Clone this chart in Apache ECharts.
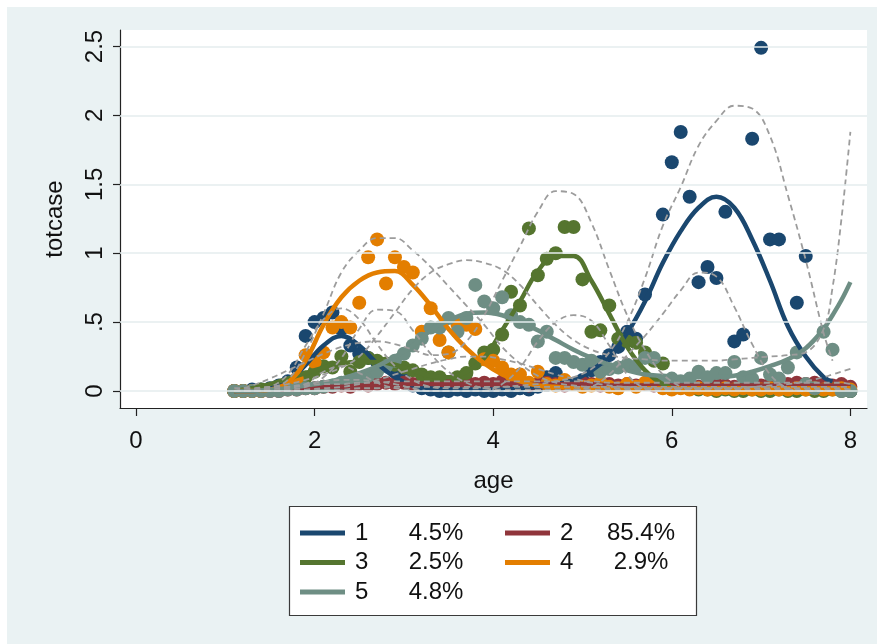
<!DOCTYPE html>
<html>
<head>
<meta charset="utf-8">
<script src="https://cdn.jsdelivr.net/npm/echarts@6/dist/echarts.min.js"></script>
<style>
  html, body { margin: 0; padding: 0; background: #fff; }
  #chart {
    width: 877px; height: 644px;
    background: linear-gradient(#eaf2f3, #eaf2f3) no-repeat 7px 7px / 870px 637px, #fff;
  }
</style>
</head>
<body>
<div id="chart"></div>
<script>
// Group labels and their estimated shares
const GROUP_NAMES = ['1', '2', '3', '4', '5'];
const GROUP_SHARES = ['4.5%', '85.4%', '2.5%', '2.9%', '4.8%'];

// Axis ticks
const X_TICKS = [0, 2, 4, 6, 8];
const Y_TICKS = [0, 0.5, 1, 1.5, 2, 2.5];

// Ages of the observed group means
const OBS_AGES = [
  1.1, 1.2, 1.3, 1.4, 1.5, 1.6, 1.7, 1.8, 1.9, 2.0,
  2.1, 2.2, 2.3, 2.4, 2.5, 2.6, 2.7, 2.8, 2.9, 3.0,
  3.1, 3.2, 3.3, 3.4, 3.5, 3.6, 3.7, 3.8, 3.9, 4.0,
  4.1, 4.2, 4.3, 4.4, 4.5, 4.6, 4.7, 4.8, 4.9, 5.0,
  5.1, 5.2, 5.3, 5.4, 5.5, 5.6, 5.7, 5.8, 5.9, 6.0,
  6.1, 6.2, 6.3, 6.4, 6.5, 6.6, 6.7, 6.8, 6.9, 7.0,
  7.1, 7.2, 7.3, 7.4, 7.5, 7.6, 7.7, 7.8, 7.9, 8.0
];

// Observed mean totcase per group
const OBS_1 = [
  0.00, 0.00, 0.01, 0.01, 0.02, 0.04, 0.07, 0.17, 0.40, 0.50,
  0.53, 0.57, 0.45, 0.33, 0.27, 0.24, 0.21, 0.18, 0.14, 0.08,
  0.04, 0.02, 0.01, 0.00, 0.00, 0.01, 0.00, 0.01, 0.00, 0.00,
  0.01, 0.00, 0.02, 0.01, 0.03, 0.10, 0.13, 0.07, 0.05, 0.08,
  0.15, 0.21, 0.26, 0.32, 0.43, 0.38, 0.70, 0.05, 1.28, 1.66,
  1.88, 1.41, 0.79, 0.90, 0.82, 1.30, 0.36, 0.41, 1.83, 2.49,
  1.10, 1.10, 0.04, 0.64, 0.98, 0.03, 0.02, 0.03, 0.01, 0.00
];
const OBS_2 = [
  0.00, 0.00, 0.00, 0.00, 0.00, 0.00, 0.01, 0.01, 0.02, 0.02,
  0.03, 0.03, 0.04, 0.03, 0.05, 0.04, 0.05, 0.06, 0.05, 0.06,
  0.05, 0.07, 0.05, 0.06, 0.05, 0.06, 0.07, 0.05, 0.06, 0.05,
  0.07, 0.05, 0.06, 0.04, 0.05, 0.06, 0.05, 0.04, 0.05, 0.06,
  0.05, 0.04, 0.05, 0.04, 0.05, 0.04, 0.05, 0.04, 0.03, 0.04,
  0.05, 0.04, 0.03, 0.04, 0.05, 0.04, 0.03, 0.04, 0.05, 0.04,
  0.05, 0.04, 0.05, 0.06, 0.05, 0.06, 0.05, 0.04, 0.05, 0.03
];
const OBS_3 = [
  0.00, 0.00, 0.00, 0.01, 0.01, 0.02, 0.03, 0.06, 0.10, 0.14,
  0.18, 0.17, 0.25, 0.14, 0.21, 0.24, 0.22, 0.20, 0.19, 0.17,
  0.15, 0.12, 0.10, 0.10, 0.28, 0.10, 0.13, 0.20, 0.28, 0.30,
  0.41, 0.72, 0.62, 1.18, 0.84, 0.96, 1.00, 1.19, 1.19, 0.81,
  0.43, 0.44, 0.62, 0.38, 0.36, 0.35, 0.28, 0.22, 0.20, 0.06,
  0.03, 0.02, 0.01, 0.01, 0.00, 0.01, 0.00, 0.00, 0.01, 0.00,
  0.00, 0.01, 0.00, 0.00, 0.01, 0.00, 0.00, 0.01, 0.00, 0.00
];
const OBS_4 = [
  0.00, 0.00, 0.00, 0.00, 0.01, 0.02, 0.05, 0.09, 0.26, 0.21,
  0.28, 0.46, 0.50, 0.46, 0.64, 0.97, 1.10, 0.78, 0.97, 0.90,
  0.86, 0.43, 0.60, 0.37, 0.28, 0.48, 0.48, 0.45, 0.23, 0.22,
  0.17, 0.12, 0.12, 0.06, 0.14, 0.05, 0.04, 0.08, 0.05, 0.03,
  0.04, 0.06, 0.03, 0.02, 0.05, 0.03, 0.06, 0.05, 0.02, 0.01,
  0.02, 0.01, 0.02, 0.01, 0.01, 0.02, 0.01, 0.02, 0.01, 0.01,
  0.02, 0.01, 0.01, 0.02, 0.01, 0.02, 0.01, 0.01, 0.02, 0.01
];
const OBS_5 = [
  0.00, 0.00, 0.00, 0.00, 0.00, 0.00, 0.01, 0.01, 0.02, 0.02,
  0.03, 0.04, 0.06, 0.07, 0.09, 0.11, 0.14, 0.18, 0.22, 0.27,
  0.33, 0.38, 0.46, 0.46, 0.53, 0.43, 0.53, 0.77, 0.65, 0.60,
  0.68, 0.55, 0.50, 0.48, 0.36, 0.43, 0.24, 0.24, 0.21, 0.19,
  0.22, 0.14, 0.16, 0.17, 0.19, 0.18, 0.24, 0.24, 0.07, 0.09,
  0.07, 0.09, 0.14, 0.10, 0.13, 0.13, 0.21, 0.10, 0.09, 0.24,
  0.12, 0.09, 0.17, 0.28, 0.05, 0.02, 0.43, 0.30, 0.00, 0.00
];

// Ages at which the fitted trajectories and their bounds are given
const LINE_AGES = [
  1.1, 1.3, 1.5, 1.7, 1.9, 2.1, 2.3, 2.5, 2.7, 2.9,
  3.1, 3.3, 3.5, 3.7, 3.9, 4.1, 4.3, 4.5, 4.7, 4.9,
  5.1, 5.3, 5.5, 5.7, 5.9, 6.1, 6.3, 6.5, 6.7, 6.9,
  7.1, 7.3, 7.5, 7.7, 7.8, 7.9, 8.0
];

// Fitted trajectories
const FIT_1 = [
  0.00, 0.01, 0.02, 0.07, 0.19, 0.33, 0.40, 0.33, 0.20, 0.10,
  0.04, 0.02, 0.01, 0.01, 0.01, 0.01, 0.02, 0.03, 0.05, 0.08,
  0.15, 0.25, 0.42, 0.65, 0.93, 1.16, 1.33, 1.41, 1.33, 1.10,
  0.80, 0.47, 0.25, 0.10, 0.07, null, null
];
const FIT_2 = [
  0.00, 0.00, 0.01, 0.01, 0.02, 0.03, 0.03, 0.04, 0.04, 0.05,
  0.05, 0.05, 0.05, 0.05, 0.05, 0.05, 0.05, 0.05, 0.05, 0.05,
  0.05, 0.04, 0.04, 0.04, 0.04, 0.04, 0.04, 0.04, 0.04, 0.04,
  0.04, 0.04, 0.04, 0.04, 0.04, 0.04, 0.03
];
const FIT_3 = [
  0.00, 0.02, 0.05, 0.09, 0.13, 0.17, 0.20, 0.21, 0.21, 0.19,
  0.15, 0.11, 0.10, 0.14, 0.24, 0.44, 0.65, 0.87, 0.98, 0.98,
  0.80, 0.56, 0.32, 0.15, 0.05, 0.01, null, null, null, null,
  null, null, null, null, null, null, null
];
const FIT_4 = [
  0.00, 0.00, 0.01, 0.06, 0.22, 0.48, 0.68, 0.80, 0.86, 0.87,
  0.77, 0.62, 0.45, 0.31, 0.20, 0.12, 0.07, 0.04, 0.03, 0.02,
  0.02, 0.02, 0.02, 0.02, 0.02, 0.02, 0.02, 0.02, 0.02, 0.02,
  0.02, 0.02, 0.02, 0.02, 0.02, 0.02, 0.02
];
const FIT_5 = [
  0.00, 0.00, 0.01, 0.02, 0.04, 0.06, 0.09, 0.13, 0.18, 0.25,
  0.33, 0.44, 0.51, 0.56, 0.57, 0.55, 0.50, 0.44, 0.37, 0.30,
  0.24, 0.19, 0.15, 0.12, 0.11, 0.10, 0.10, 0.10, 0.11, 0.14,
  0.18, 0.23, 0.31, 0.45, 0.55, 0.66, 0.79
];

// Upper and lower bounds
const UP_1 = [
  0.00, 0.01, 0.03, 0.12, 0.33, 0.52, 0.60, 0.52, 0.34, 0.18,
  0.08, 0.03, 0.02, 0.02, 0.02, 0.03, 0.04, 0.05, 0.07, 0.10,
  0.16, 0.28, 0.50, 0.82, 1.20, 1.48, 1.78, 1.96, 2.07, 2.05,
  1.85, 1.42, 0.95, 0.42, 0.22, null, null
];
const LO_1 = [
  0.00, 0.00, 0.00, 0.02, 0.05, 0.14, 0.18, 0.13, 0.06, 0.02,
  0.01, 0.00, 0.00, 0.00, 0.00, 0.00, 0.00, 0.00, 0.00, 0.01,
  0.03, 0.12, 0.26, 0.40, 0.56, 0.73, 0.86, 0.83, 0.61, 0.34,
  0.12, 0.02, 0.00, 0.00, 0.00, null, null
];
const UP_2 = [
  0.02, 0.02, 0.03, 0.03, 0.04, 0.05, 0.05, 0.06, 0.06, 0.07,
  0.07, 0.07, 0.07, 0.07, 0.07, 0.07, 0.07, 0.07, 0.07, 0.07,
  0.07, 0.06, 0.06, 0.06, 0.06, 0.06, 0.06, 0.06, 0.06, 0.06,
  0.06, 0.06, 0.06, 0.06, 0.06, 0.06, 0.05
];
const LO_2 = [
  0.00, 0.00, 0.00, 0.00, 0.00, 0.01, 0.01, 0.02, 0.02, 0.03,
  0.03, 0.03, 0.03, 0.03, 0.03, 0.03, 0.03, 0.03, 0.03, 0.03,
  0.03, 0.02, 0.02, 0.02, 0.02, 0.02, 0.02, 0.02, 0.02, 0.02,
  0.02, 0.02, 0.02, 0.02, 0.02, 0.02, 0.01
];
const UP_3 = [
  0.00, 0.04, 0.09, 0.15, 0.21, 0.27, 0.32, 0.35, 0.36, 0.34,
  0.30, 0.26, 0.27, 0.36, 0.55, 0.80, 1.05, 1.30, 1.45, 1.43,
  1.22, 0.88, 0.55, 0.30, 0.12, 0.03, null, null, null, null,
  null, null, null, null, null, null, null
];
const LO_3 = [
  0.00, 0.00, 0.01, 0.03, 0.05, 0.07, 0.08, 0.08, 0.07, 0.05,
  0.02, 0.00, 0.00, 0.00, 0.00, 0.05, 0.17, 0.36, 0.50, 0.55,
  0.51, 0.33, 0.12, 0.02, 0.00, 0.00, null, null, null, null,
  null, null, null, null, null, null, null
];
const UP_4 = [
  0.00, 0.00, 0.02, 0.08, 0.28, 0.56, 0.86, 1.02, 1.11, 1.11,
  1.02, 0.90, 0.76, 0.62, 0.48, 0.32, 0.20, 0.11, 0.06, 0.04,
  0.03, 0.03, 0.03, 0.03, 0.03, 0.03, 0.03, 0.03, 0.03, 0.03,
  0.03, 0.03, 0.03, 0.03, 0.03, 0.03, 0.03
];
const LO_4 = [
  0.00, 0.00, 0.00, 0.01, 0.03, 0.10, 0.24, 0.45, 0.59, 0.58,
  0.44, 0.27, 0.14, 0.06, 0.02, 0.01, 0.01, 0.01, 0.01, 0.01,
  0.01, 0.01, 0.01, 0.01, 0.01, 0.01, 0.01, 0.01, 0.01, 0.01,
  0.01, 0.01, 0.01, 0.01, 0.01, 0.01, 0.01
];
const UP_5 = [
  0.00, 0.01, 0.03, 0.05, 0.08, 0.12, 0.17, 0.25, 0.40, 0.57,
  0.74, 0.86, 0.92, 0.95, 0.93, 0.88, 0.77, 0.62, 0.48, 0.37,
  0.30, 0.26, 0.24, 0.23, 0.22, 0.22, 0.22, 0.22, 0.23, 0.24,
  0.25, 0.26, 0.28, 0.45, 0.75, 1.25, 1.88
];
const LO_5 = [
  0.00, 0.00, 0.00, 0.00, 0.01, 0.02, 0.03, 0.05, 0.08, 0.12,
  0.16, 0.20, 0.23, 0.25, 0.25, 0.23, 0.20, 0.16, 0.12, 0.09,
  0.06, 0.04, 0.03, 0.02, 0.02, 0.02, 0.02, 0.02, 0.02, 0.03,
  0.04, 0.05, 0.07, 0.10, 0.12, 0.14, 0.16
];

const COLORS = ['#1a476f', '#90353b', '#55752f', '#e37e00', '#6e8e84'];
const FONT = '"Liberation Sans", Arial, Helvetica, sans-serif';
const TEXT = '#111';
const CI_COLOR = '#9c9c9c';

const OBS = [OBS_1, OBS_2, OBS_3, OBS_4, OBS_5];
const FIT = [FIT_1, FIT_2, FIT_3, FIT_4, FIT_5];
const UP = [UP_1, UP_2, UP_3, UP_4, UP_5];
const LO = [LO_1, LO_2, LO_3, LO_4, LO_5];

const pairs = (xs, ys) => xs.map((x, i) => [x, ys[i]]);

const series = [];

// Horizontal grid lines at the y ticks
series.push({
  type: 'line', name: 'grid', data: [], silent: true, z: 1,
  markLine: {
    silent: true, symbol: 'none', animation: false,
    label: { show: false },
    lineStyle: { color: '#e4edee', width: 1.5, type: 'solid' },
    data: Y_TICKS.map(v => ({ yAxis: v }))
  }
});

// Observed means
OBS.forEach((ys, i) => {
  series.push({
    type: 'scatter', name: 'obs ' + GROUP_NAMES[i], data: pairs(OBS_AGES, ys),
    symbol: 'circle', symbolSize: 14, silent: true, z: 2,
    itemStyle: { color: COLORS[i], opacity: 1 }
  });
});

// Fitted trajectories
FIT.forEach((ys, i) => {
  series.push({
    type: 'line', name: GROUP_NAMES[i], data: pairs(LINE_AGES, ys),
    symbol: 'none', showSymbol: false, smooth: 0.4, silent: true, z: 3,
    color: COLORS[i],
    itemStyle: { color: COLORS[i] },
    lineStyle: { color: COLORS[i], width: 4.5 }
  });
});

// Dashed bounds
[UP, LO].forEach((set, k) => {
  set.forEach((ys, i) => {
    series.push({
      type: 'line', name: (k === 0 ? 'upper ' : 'lower ') + GROUP_NAMES[i],
      data: pairs(LINE_AGES, ys),
      symbol: 'none', showSymbol: false, smooth: 0.4, silent: true, z: 4,
      lineStyle: { color: CI_COLOR, width: 1.8, type: [6, 4] }
    });
  });
});

const legendText = {
  fontFamily: FONT, fontSize: 24, color: TEXT, lineHeight: 24,
  rich: {
    n: { width: 37, padding: [0, 0, 0, 5], fontFamily: FONT, fontSize: 24, color: TEXT, lineHeight: 24 },
    p: { width: 88, align: 'center', fontFamily: FONT, fontSize: 24, color: TEXT, lineHeight: 24 }
  }
};
const legendFormatter = name => '{n|' + name + '}{p|' + GROUP_SHARES[GROUP_NAMES.indexOf(name)] + '}';
const legendBase = {
  orient: 'vertical', top: 521, padding: 0, itemGap: 5.5,
  itemWidth: 45, itemHeight: 5, icon: 'rect', selectedMode: false,
  formatter: legendFormatter, textStyle: legendText
};

const option = {
  animation: false,
  backgroundColor: 'transparent',
  textStyle: { fontFamily: FONT },
  grid: {
    left: 120, right: 10, top: 30, bottom: 236,
    show: true, backgroundColor: '#ffffff', borderWidth: 0
  },
  xAxis: {
    type: 'value', min: -0.179, max: 8.186,
    name: 'age', nameLocation: 'middle', nameGap: 61,
    nameTextStyle: { fontFamily: FONT, fontSize: 24, color: TEXT },
    axisLine: { show: true, onZero: false, lineStyle: { color: '#222', width: 1.2 } },
    axisTick: { show: true, length: 8, customValues: X_TICKS, lineStyle: { color: '#222', width: 1.2 } },
    axisLabel: { customValues: X_TICKS, margin: 21, fontFamily: FONT, fontSize: 24, color: TEXT },
    splitLine: { show: false }
  },
  yAxis: {
    type: 'value', min: -0.1234, max: 2.6197,
    name: 'totcase', nameLocation: 'middle', nameGap: 53, nameRotate: 90,
    nameTextStyle: { fontFamily: FONT, fontSize: 24, color: TEXT },
    axisLine: { show: true, onZero: false, lineStyle: { color: '#222', width: 1.2 } },
    axisTick: { show: true, length: 7, customValues: Y_TICKS, lineStyle: { color: '#222', width: 1.2 } },
    axisLabel: {
      customValues: Y_TICKS, rotate: 90, margin: 13,
      fontFamily: FONT, fontSize: 24, color: TEXT,
      formatter: v => (v > 0 && v < 1 ? String(v).replace(/^0/, '') : String(v))
    },
    splitLine: { show: false }
  },
  legend: [
    Object.assign({}, legendBase, { left: 300, data: ['1', '3', '5'] }),
    Object.assign({}, legendBase, { left: 505, data: ['2', '4'] })
  ],
  graphic: [{
    type: 'rect', z: 0, silent: true,
    shape: { x: 289.5, y: 506.5, width: 407, height: 109 },
    style: { fill: '#ffffff', stroke: '#3a3a3a', lineWidth: 1.2 }
  }],
  series: series
};

const chart = echarts.init(document.getElementById('chart'), null, { renderer: 'canvas' });
chart.setOption(option);
</script>
</body>
</html>
